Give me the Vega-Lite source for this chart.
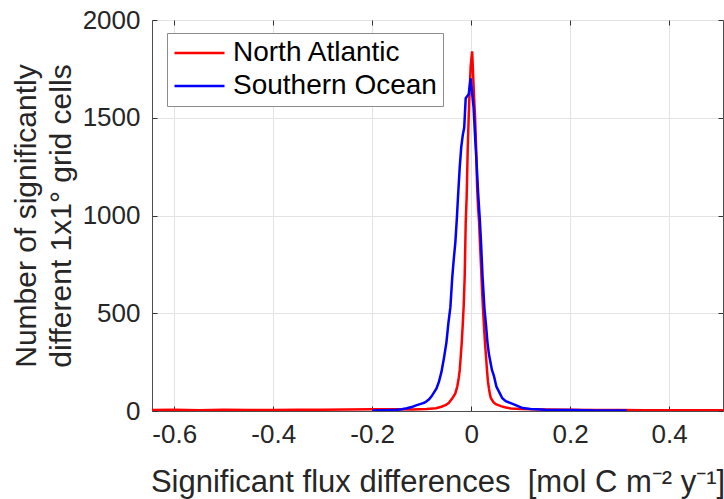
{
  "$schema": "https://vega.github.io/schema/vega-lite/v6.json",
  "width": 571,
  "height": 391,
  "autosize": {"type": "none"},
  "padding": {"left": 152, "top": 20, "right": 1, "bottom": 88},
  "background": "white",
  "config": {
    "view": {"stroke": "#4d4d4d", "strokeWidth": 1},
    "font": "Liberation Sans",
    "axis": {
      "domainColor": "#4d4d4d",
      "tickColor": "#333333",
      "gridColor": "#e3e3e3",
      "labelColor": "#262626",
      "titleColor": "#262626",
      "labelFont": "Liberation Sans",
      "titleFont": "Liberation Sans",
      "labelFontSize": 26,
      "titleFontSize": 30,
      "titleFontWeight": "normal",
      "tickSize": -5
    }
  },
  "data": {
    "values": [
      {"x": -0.65, "n": 5, "region": "North Atlantic"},
      {"x": -0.6, "n": 6, "region": "North Atlantic"},
      {"x": -0.55, "n": 4, "region": "North Atlantic"},
      {"x": -0.5, "n": 6, "region": "North Atlantic"},
      {"x": -0.45, "n": 5, "region": "North Atlantic"},
      {"x": -0.4, "n": 5, "region": "North Atlantic"},
      {"x": -0.35, "n": 6, "region": "North Atlantic"},
      {"x": -0.3, "n": 7, "region": "North Atlantic"},
      {"x": -0.25, "n": 8, "region": "North Atlantic"},
      {"x": -0.2, "n": 9, "region": "North Atlantic"},
      {"x": -0.15, "n": 9, "region": "North Atlantic"},
      {"x": -0.12, "n": 8, "region": "North Atlantic"},
      {"x": -0.09, "n": 10, "region": "North Atlantic"},
      {"x": -0.071, "n": 14, "region": "North Atlantic"},
      {"x": -0.06, "n": 22, "region": "North Atlantic"},
      {"x": -0.051, "n": 31, "region": "North Atlantic"},
      {"x": -0.045, "n": 42, "region": "North Atlantic"},
      {"x": -0.038, "n": 65, "region": "North Atlantic"},
      {"x": -0.032, "n": 90, "region": "North Atlantic"},
      {"x": -0.028, "n": 125, "region": "North Atlantic"},
      {"x": -0.025, "n": 170, "region": "North Atlantic"},
      {"x": -0.023, "n": 210, "region": "North Atlantic"},
      {"x": -0.021, "n": 280, "region": "North Atlantic"},
      {"x": -0.019, "n": 350, "region": "North Atlantic"},
      {"x": -0.017, "n": 440, "region": "North Atlantic"},
      {"x": -0.015, "n": 540, "region": "North Atlantic"},
      {"x": -0.013, "n": 690, "region": "North Atlantic"},
      {"x": -0.011, "n": 960, "region": "North Atlantic"},
      {"x": -0.009, "n": 1100, "region": "North Atlantic"},
      {"x": -0.007, "n": 1330, "region": "North Atlantic"},
      {"x": -0.005, "n": 1500, "region": "North Atlantic"},
      {"x": -0.003, "n": 1640, "region": "North Atlantic"},
      {"x": -0.001, "n": 1760, "region": "North Atlantic"},
      {"x": 0.002, "n": 1840, "region": "North Atlantic"},
      {"x": 0.004, "n": 1720, "region": "North Atlantic"},
      {"x": 0.006, "n": 1600, "region": "North Atlantic"},
      {"x": 0.008, "n": 1500, "region": "North Atlantic"},
      {"x": 0.01, "n": 1350, "region": "North Atlantic"},
      {"x": 0.012, "n": 1150, "region": "North Atlantic"},
      {"x": 0.014, "n": 1040, "region": "North Atlantic"},
      {"x": 0.016, "n": 970, "region": "North Atlantic"},
      {"x": 0.018, "n": 850, "region": "North Atlantic"},
      {"x": 0.02, "n": 740, "region": "North Atlantic"},
      {"x": 0.022, "n": 620, "region": "North Atlantic"},
      {"x": 0.024, "n": 520, "region": "North Atlantic"},
      {"x": 0.026, "n": 430, "region": "North Atlantic"},
      {"x": 0.028, "n": 350, "region": "North Atlantic"},
      {"x": 0.03, "n": 280, "region": "North Atlantic"},
      {"x": 0.032, "n": 210, "region": "North Atlantic"},
      {"x": 0.034, "n": 150, "region": "North Atlantic"},
      {"x": 0.036, "n": 115, "region": "North Atlantic"},
      {"x": 0.038, "n": 85, "region": "North Atlantic"},
      {"x": 0.04, "n": 65, "region": "North Atlantic"},
      {"x": 0.045, "n": 45, "region": "North Atlantic"},
      {"x": 0.05, "n": 35, "region": "North Atlantic"},
      {"x": 0.055, "n": 30, "region": "North Atlantic"},
      {"x": 0.06, "n": 25, "region": "North Atlantic"},
      {"x": 0.07, "n": 18, "region": "North Atlantic"},
      {"x": 0.08, "n": 13, "region": "North Atlantic"},
      {"x": 0.1, "n": 10, "region": "North Atlantic"},
      {"x": 0.15, "n": 8, "region": "North Atlantic"},
      {"x": 0.2, "n": 6, "region": "North Atlantic"},
      {"x": 0.25, "n": 5, "region": "North Atlantic"},
      {"x": 0.3, "n": 5, "region": "North Atlantic"},
      {"x": 0.35, "n": 4, "region": "North Atlantic"},
      {"x": 0.4, "n": 4, "region": "North Atlantic"},
      {"x": 0.45, "n": 4, "region": "North Atlantic"},
      {"x": 0.51, "n": 4, "region": "North Atlantic"},
      {"x": -0.2, "n": 3, "region": "Southern Ocean"},
      {"x": -0.18, "n": 4, "region": "Southern Ocean"},
      {"x": -0.16, "n": 5, "region": "Southern Ocean"},
      {"x": -0.15, "n": 6, "region": "Southern Ocean"},
      {"x": -0.14, "n": 9, "region": "Southern Ocean"},
      {"x": -0.13, "n": 14, "region": "Southern Ocean"},
      {"x": -0.12, "n": 20, "region": "Southern Ocean"},
      {"x": -0.11, "n": 30, "region": "Southern Ocean"},
      {"x": -0.1, "n": 38, "region": "Southern Ocean"},
      {"x": -0.095, "n": 42, "region": "Southern Ocean"},
      {"x": -0.09, "n": 50, "region": "Southern Ocean"},
      {"x": -0.085, "n": 60, "region": "Southern Ocean"},
      {"x": -0.08, "n": 75, "region": "Southern Ocean"},
      {"x": -0.075, "n": 95, "region": "Southern Ocean"},
      {"x": -0.07, "n": 115, "region": "Southern Ocean"},
      {"x": -0.065, "n": 150, "region": "Southern Ocean"},
      {"x": -0.06, "n": 200, "region": "Southern Ocean"},
      {"x": -0.055, "n": 270, "region": "Southern Ocean"},
      {"x": -0.05, "n": 350, "region": "Southern Ocean"},
      {"x": -0.046, "n": 450, "region": "Southern Ocean"},
      {"x": -0.042, "n": 530, "region": "Southern Ocean"},
      {"x": -0.038, "n": 690, "region": "Southern Ocean"},
      {"x": -0.035, "n": 780, "region": "Southern Ocean"},
      {"x": -0.032, "n": 860, "region": "Southern Ocean"},
      {"x": -0.029, "n": 980, "region": "Southern Ocean"},
      {"x": -0.026, "n": 1120, "region": "Southern Ocean"},
      {"x": -0.023, "n": 1250, "region": "Southern Ocean"},
      {"x": -0.02, "n": 1350, "region": "Southern Ocean"},
      {"x": -0.017, "n": 1410, "region": "Southern Ocean"},
      {"x": -0.014, "n": 1450, "region": "Southern Ocean"},
      {"x": -0.011, "n": 1600, "region": "Southern Ocean"},
      {"x": -0.008, "n": 1610, "region": "Southern Ocean"},
      {"x": -0.005, "n": 1620, "region": "Southern Ocean"},
      {"x": -0.003, "n": 1660, "region": "Southern Ocean"},
      {"x": -0.001, "n": 1702, "region": "Southern Ocean"},
      {"x": 0.001, "n": 1650, "region": "Southern Ocean"},
      {"x": 0.003, "n": 1600, "region": "Southern Ocean"},
      {"x": 0.005, "n": 1550, "region": "Southern Ocean"},
      {"x": 0.008, "n": 1400, "region": "Southern Ocean"},
      {"x": 0.011, "n": 1270, "region": "Southern Ocean"},
      {"x": 0.014, "n": 1120, "region": "Southern Ocean"},
      {"x": 0.0175, "n": 980, "region": "Southern Ocean"},
      {"x": 0.02, "n": 860, "region": "Southern Ocean"},
      {"x": 0.023, "n": 690, "region": "Southern Ocean"},
      {"x": 0.027, "n": 520, "region": "Southern Ocean"},
      {"x": 0.03, "n": 440, "region": "Southern Ocean"},
      {"x": 0.033, "n": 350, "region": "Southern Ocean"},
      {"x": 0.036, "n": 290, "region": "Southern Ocean"},
      {"x": 0.042, "n": 210, "region": "Southern Ocean"},
      {"x": 0.046, "n": 180, "region": "Southern Ocean"},
      {"x": 0.051, "n": 125, "region": "Southern Ocean"},
      {"x": 0.058, "n": 90, "region": "Southern Ocean"},
      {"x": 0.063, "n": 65, "region": "Southern Ocean"},
      {"x": 0.07, "n": 50, "region": "Southern Ocean"},
      {"x": 0.08, "n": 40, "region": "Southern Ocean"},
      {"x": 0.09, "n": 30, "region": "Southern Ocean"},
      {"x": 0.104, "n": 15, "region": "Southern Ocean"},
      {"x": 0.12, "n": 10, "region": "Southern Ocean"},
      {"x": 0.15, "n": 7, "region": "Southern Ocean"},
      {"x": 0.2, "n": 5, "region": "Southern Ocean"},
      {"x": 0.25, "n": 3, "region": "Southern Ocean"},
      {"x": 0.314, "n": 2, "region": "Southern Ocean"}
    ]
  },
  "layer": [
    {
      "mark": {"type": "line", "strokeWidth": 2.5, "clip": true, "interpolate": "linear"},
      "encoding": {
        "x": {
          "field": "x",
          "type": "quantitative",
          "scale": {"domain": [-0.645, 0.509], "nice": false, "zero": false},
          "axis": {
            "orient": "bottom",
            "values": [-0.6, -0.4, -0.2, 0, 0.2, 0.4],
            "format": "~g",
            "labelExpr": "replace(datum.label, '−', '-')",
            "labelPadding": 15,
            "title": "Significant flux differences\u00a0\u00a0[mol C m⁻² y⁻¹]",
            "titleFontSize": 31,
            "titlePadding": 20
          }
        },
        "y": {
          "field": "n",
          "type": "quantitative",
          "scale": {"domain": [0, 2000], "nice": false},
          "axis": {
            "orient": "left",
            "values": [0, 500, 1000, 1500, 2000],
            "format": "d",
            "labelPadding": 17,
            "title": ["Number of significantly", "different 1x1° grid cells"],
            "titleLineHeight": 35,
            "titlePadding": 6
          }
        },
        "color": {
          "field": "region",
          "type": "nominal",
          "scale": {"domain": ["North Atlantic", "Southern Ocean"], "range": ["#ff0000", "#0000ff"]},
          "legend": {
            "title": null,
            "orient": "none",
            "legendX": 15,
            "legendY": 13,
            "symbolType": "M-2,0H2",
            "symbolSize": 625,
            "symbolStrokeWidth": 2.5,
            "symbolOffset": 12.5,
            "labelFontSize": 28,
            "labelFont": "Liberation Sans",
            "labelColor": "#000000",
            "labelOffset": 19.5,
            "labelLimit": 400,
            "fillColor": "white",
            "strokeColor": "#8c8c8c",
            "padding": 6,
            "rowPadding": 5
          }
        }
      }
    },
    {
      "mark": {"type": "line", "opacity": 0, "clip": true},
      "encoding": {
        "x": {
          "field": "x",
          "type": "quantitative",
          "axis": {
            "orient": "top",
            "values": [-0.6, -0.4, -0.2, 0, 0.2, 0.4],
            "labels": false,
            "grid": false,
            "domain": false,
            "title": null
          }
        },
        "y": {
          "field": "n",
          "type": "quantitative",
          "axis": {
            "orient": "right",
            "values": [0, 500, 1000, 1500, 2000],
            "labels": false,
            "grid": false,
            "domain": false,
            "title": null
          }
        },
        "detail": {"field": "region", "type": "nominal"}
      }
    }
  ],
  "resolve": {"axis": {"x": "independent", "y": "independent"}}
}
